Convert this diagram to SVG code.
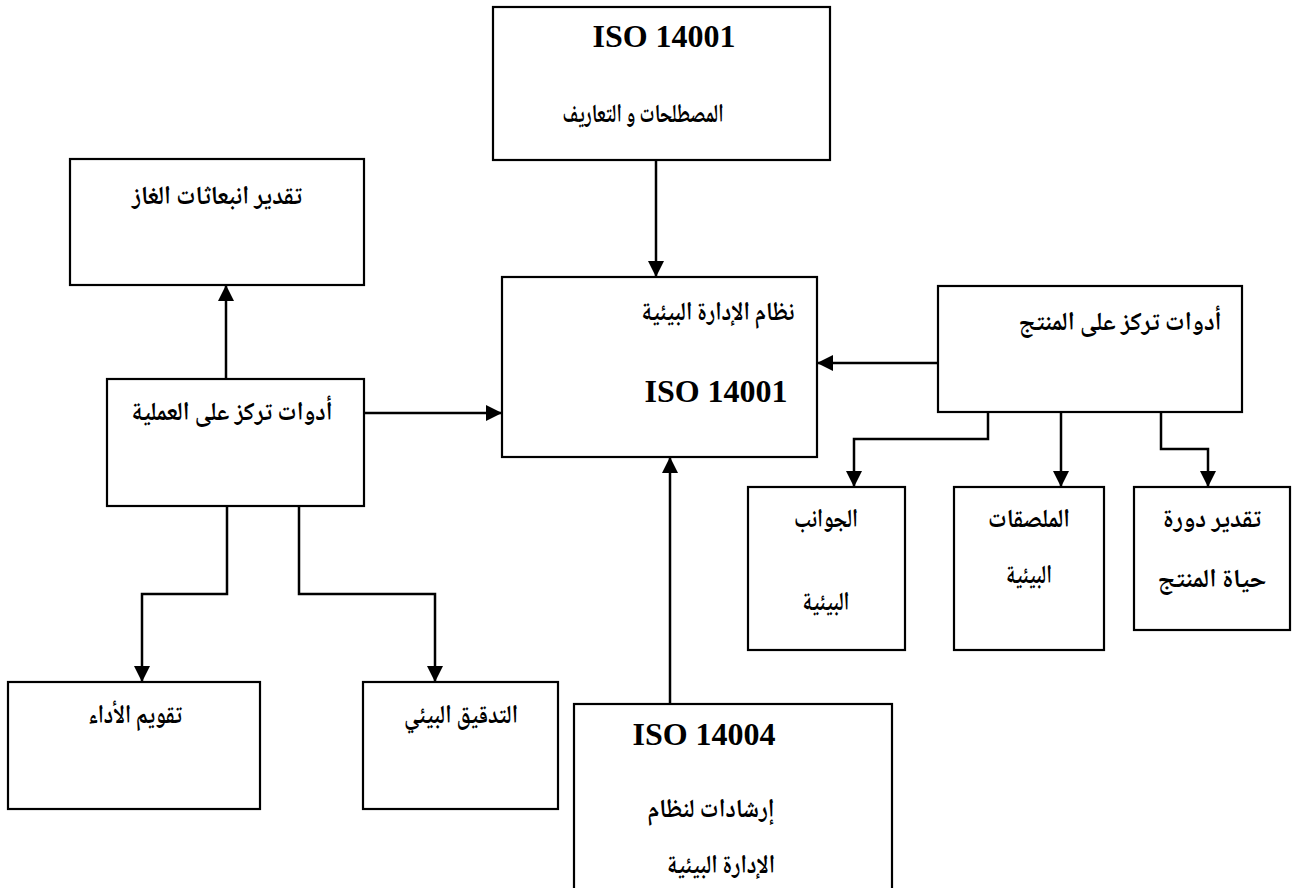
<svg xmlns="http://www.w3.org/2000/svg" width="1299" height="888" viewBox="0 0 1299 888">
<style>
.box{fill:#fff;stroke:#000;stroke-width:2.2}
.ln{fill:none;stroke:#000;stroke-width:2.5}
.ar{font-family:"Noto Naskh Arabic","Noto Sans Arabic","DejaVu Sans",sans-serif;font-weight:bold;font-size:26px;fill:#000;text-anchor:middle}
.lat{font-family:"Liberation Serif","Times New Roman",serif;font-weight:bold;font-size:32px;fill:#000;text-anchor:middle}
</style>
<defs>
<marker id="ah" viewBox="0 0 16 16" refX="16" refY="8" markerWidth="16" markerHeight="16" markerUnits="userSpaceOnUse" orient="auto">
<path d="M0,0 L16,8 L0,16 Z" fill="#000"/>
</marker>
</defs>
<rect width="1299" height="888" fill="#fff"/>
<g id="connectors">
<path class="ln" d="M656,160 V277" marker-end="url(#ah)"/>
<path class="ln" d="M364,413 H502" marker-end="url(#ah)"/>
<path class="ln" d="M938,363 H817" marker-end="url(#ah)"/>
<path class="ln" d="M670,704 V457" marker-end="url(#ah)"/>
<path class="ln" d="M226,379 V285" marker-end="url(#ah)"/>
<path class="ln" d="M227,506 V594 H142 V682" marker-end="url(#ah)"/>
<path class="ln" d="M299,506 V594 H435 V682" marker-end="url(#ah)"/>
<path class="ln" d="M988,412 V439 H854 V487" marker-end="url(#ah)"/>
<path class="ln" d="M1061,412 V487" marker-end="url(#ah)"/>
<path class="ln" d="M1161,412 V449 H1208 V487" marker-end="url(#ah)"/>
</g>
<g id="n-top">
<rect class="box" x="493" y="7" width="337" height="153"/>
<text class="lat" x="664" y="47">ISO 14001</text>
<text class="ar" x="643" y="122" textLength="161" lengthAdjust="spacingAndGlyphs">المصطلحات و التعاريف</text>
</g>
<g id="n-gas">
<rect class="box" x="70" y="159" width="294" height="126"/>
<text class="ar" x="217" y="204" textLength="170" lengthAdjust="spacingAndGlyphs">تقدير انبعاثات الغاز</text>
</g>
<g id="n-ems">
<rect class="box" x="502" y="277" width="315" height="180"/>
<text class="ar" x="718" y="320" textLength="153" lengthAdjust="spacingAndGlyphs">نظام الإدارة البيئية</text>
<text class="lat" x="716" y="402">ISO 14001</text>
</g>
<g id="n-product">
<rect class="box" x="938" y="286" width="304" height="126"/>
<text class="ar" x="1120" y="330" textLength="203" lengthAdjust="spacingAndGlyphs">أدوات تركز على المنتج</text>
</g>
<g id="n-process">
<rect class="box" x="107" y="379" width="257" height="127"/>
<text class="ar" x="232" y="420" textLength="201" lengthAdjust="spacingAndGlyphs">أدوات تركز على العملية</text>
</g>
<g id="n-aspects">
<rect class="box" x="748" y="487" width="157" height="163"/>
<text class="ar" x="826" y="527" textLength="64" lengthAdjust="spacingAndGlyphs">الجوانب</text>
<text class="ar" x="826" y="610" textLength="47" lengthAdjust="spacingAndGlyphs">البيئية</text>
</g>
<g id="n-labels">
<rect class="box" x="954" y="487" width="150" height="163"/>
<text class="ar" x="1029" y="527" textLength="82" lengthAdjust="spacingAndGlyphs">الملصقات</text>
<text class="ar" x="1029" y="583" textLength="46" lengthAdjust="spacingAndGlyphs">البيئية</text>
</g>
<g id="n-lca">
<rect class="box" x="1134" y="487" width="156" height="143"/>
<text class="ar" x="1212" y="527" textLength="98" lengthAdjust="spacingAndGlyphs">تقدير دورة</text>
<text class="ar" x="1212" y="587" textLength="109" lengthAdjust="spacingAndGlyphs">حياة المنتج</text>
</g>
<g id="n-perf">
<rect class="box" x="8" y="682" width="252" height="127"/>
<text class="ar" x="135" y="723" textLength="94" lengthAdjust="spacingAndGlyphs">تقويم الأداء</text>
</g>
<g id="n-audit">
<rect class="box" x="363" y="682" width="195" height="127"/>
<text class="ar" x="461" y="723" textLength="114" lengthAdjust="spacingAndGlyphs">التدقيق البيئي</text>
</g>
<g id="n-14004">
<rect class="box" x="574" y="704" width="318" height="190"/>
<text class="lat" x="704" y="745">ISO 14004</text>
<text class="ar" x="711" y="817" textLength="127" lengthAdjust="spacingAndGlyphs">إرشادات لنظام</text>
<text class="ar" x="721" y="873" textLength="108" lengthAdjust="spacingAndGlyphs">الإدارة البيئية</text>
</g>
</svg>
